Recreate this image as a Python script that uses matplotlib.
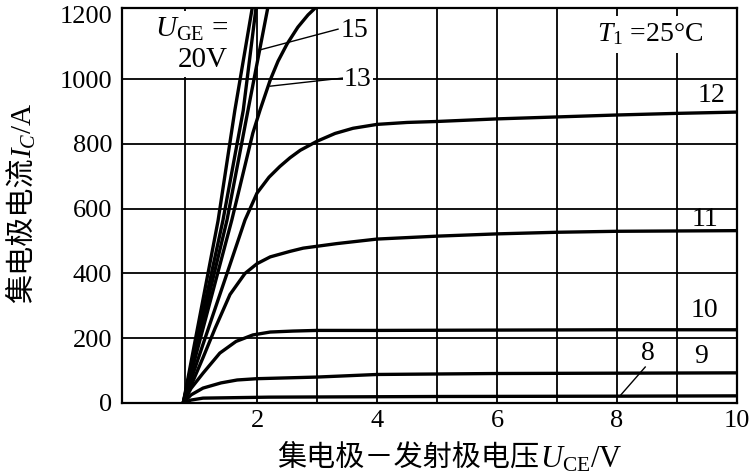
import numpy as np
import matplotlib
matplotlib.use('Agg')
import matplotlib.pyplot as plt

plt.rcParams['font.family'] = ['Liberation Serif', 'Noto Sans CJK SC']
plt.rcParams['mathtext.fontset'] = 'custom'
plt.rcParams['mathtext.rm'] = 'Liberation Serif'
plt.rcParams['mathtext.it'] = 'Liberation Serif:italic'

# output curves, U_GE in V -> (U_CE in V, I_C in A)
x20 = [0.77, 1.35, 1.63, 1.93]
y20 = [0, 562, 903, 1230]
x17 = [0.77, 1.43, 1.77, 1.99]
y17 = [0, 562, 903, 1230]
x15 = [0.77, 1.50, 1.85, 2.19]
y15 = [0, 565, 904, 1230]
x13 = [0.77, 1.58, 1.93, 2.05, 2.22, 2.35, 2.5, 2.68, 2.85, 3.02]
y13 = [0, 565, 833, 904, 997, 1055, 1108, 1160, 1198, 1228]
x12 = [0.77, 1.18, 1.5, 1.8, 2.0, 2.2, 2.38, 2.55, 2.72, 3.0, 3.3, 3.6, 4.0, 4.5, 5, 6, 7, 8, 9, 10]
y12 = [0, 225, 400, 565, 648, 697, 730, 757, 780, 808, 832, 848, 860, 866, 869, 877, 883, 889, 894, 898]
x11 = [0.77, 0.95, 1.1, 1.3, 1.55, 1.8, 2.0, 2.22, 2.55, 2.77, 3.33, 4, 5, 6, 7, 8, 9, 10]
y11 = [0, 75, 140, 230, 335, 400, 430, 451, 468, 478, 492, 506, 515, 522, 527, 530, 531, 532]
x10 = [0.77, 0.9, 1.1, 1.38, 1.65, 1.93, 2.22, 2.6, 3, 4, 6, 8, 10]
y10 = [0, 45, 92, 154, 190, 210, 219, 222, 224, 224, 225, 226, 226]
x9 = [0.77, 0.9, 1.1, 1.4, 1.67, 2.0, 3.0, 4.0, 6, 8, 10]
y9 = [0, 25, 46, 62, 71, 75, 80, 88, 91, 92, 93]
x8 = [0.77, 0.9, 1.1, 2.2, 5, 8, 10]
y8 = [0, 9, 15, 18, 20, 21, 22]

xticks = [2, 4, 6, 8, 10]
yticks = [0, 200, 400, 600, 800, 1000, 1200]
xgrid = [0.8, 2, 3, 4, 5, 6, 7, 8, 9]
ygrid = [200, 400, 600, 800, 1000]

fig = plt.figure(figsize=(7.5, 4.76), dpi=100)
ax = fig.add_axes([0.1627, 0.1534, 0.82, 0.8296])
ax.set_xlim(-0.25, 10)
ax.set_ylim(0, 1219)

for g in xgrid:
    ax.axvline(g, color='black', lw=1.3, zorder=1)
for g in ygrid:
    ax.axhline(g, color='black', lw=1.3, zorder=1)

curves = [(x20, y20), (x17, y17), (x15, y15), (x13, y13), (x12, y12),
          (x11, y11), (x10, y10), (x9, y9), (x8, y8)]
for cx, cy in curves:
    ax.plot(cx, cy, color='black', lw=2.4, solid_joinstyle='round',
            solid_capstyle='round', zorder=3)

for s in ax.spines.values():
    s.set_linewidth(1.6)

ax.set_xticks(xticks)
ax.set_yticks(yticks)
ax.tick_params(length=0, labelsize=19)
ax.tick_params(axis='y', pad=7)
ax.tick_params(axis='x', pad=5)

# leaders
ax.plot([2.05, 3.35], [1090, 1154], color='black', lw=1.0, zorder=4)
ax.plot([2.22, 3.43], [978, 1003], color='black', lw=1.0, zorder=4)
ax.plot([8.47, 8.05], [111, 22], color='black', lw=1.0, zorder=4)

box = dict(facecolor='white', edgecolor='none', pad=1)
ax.text(3.62, 1151, '15', fontsize=20, ha='center', va='center', zorder=5)
ax.text(3.68, 1000, '13', fontsize=20, ha='center', va='center', bbox=box, zorder=5)
ax.text(9.57, 948, '12', fontsize=20, ha='center', va='center', zorder=5)
ax.text(9.47, 565, '11', fontsize=20, ha='center', va='center', zorder=5)
ax.text(9.45, 287, '10', fontsize=20, ha='center', va='center', zorder=5)
ax.text(9.40, 145, '9', fontsize=20, ha='center', va='center', zorder=5)
ax.text(8.52, 154, '8', fontsize=20, ha='center', va='center', zorder=5)
ax.text(8.55, 1139, r'$T_1$ =25°C', fontsize=20, ha='center', va='center',
        bbox=dict(facecolor='white', edgecolor='none', pad=4), zorder=5)
ax.text(1.52, 1108, '$U_{\\rm GE}$ =\n20V', fontsize=21, ha='right', va='center',
        multialignment='right', linespacing=1.2,
        bbox=dict(facecolor='white', edgecolor='none', pad=3), zorder=5)

# axis titles: Chinese part and symbol part placed next to each other
fig.canvas.draw()
r = fig.canvas.get_renderer()
t1 = fig.text(0.37, 0.038, '集电极－发射极电压', fontsize=21, ha='left', va='center')
bb = t1.get_window_extent(r).transformed(fig.transFigure.inverted())
fig.text(bb.x1, 0.035, r'$U_{\rm CE}$/V', fontsize=22, ha='left', va='center')

t2 = fig.text(0.03, 0.363, '集电极电流', fontsize=21, rotation=90, ha='center', va='bottom')
bb = t2.get_window_extent(r).transformed(fig.transFigure.inverted())
fig.text(0.033, bb.y1, r'$I_C$/A', fontsize=21, rotation=90, ha='center', va='bottom')

fig.savefig('out.png', dpi=100)
